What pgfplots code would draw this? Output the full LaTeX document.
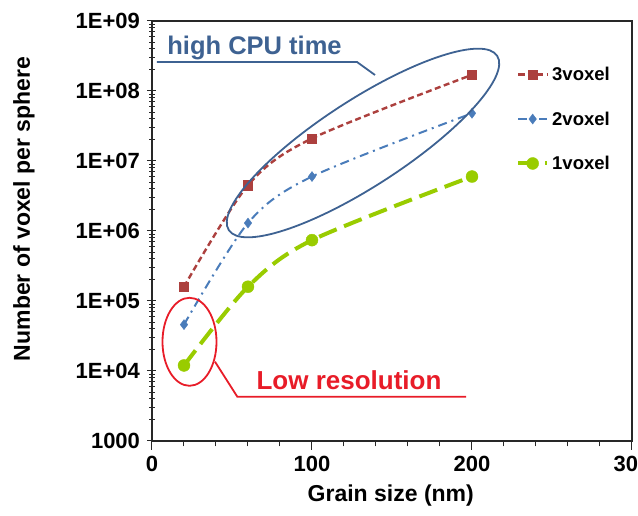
\documentclass[border=0pt]{standalone}
\usepackage{fontspec}
\setmainfont{Liberation Sans}
\usepackage{pgfplots}
\pgfplotsset{compat=1.18}
\definecolor{cRed}{RGB}{172,64,62}
\definecolor{cBlue}{RGB}{74,124,186}
\definecolor{cGreen}{RGB}{153,204,0}
\definecolor{cEll}{RGB}{62,98,146}
\definecolor{cLow}{RGB}{232,28,40}
\definecolor{cAx}{RGB}{40,40,40}
\begin{document}
\begin{tikzpicture}
\path[use as bounding box] (-152pt,-75pt) rectangle (486pt,441pt);
\begin{axis}[
  at={(0pt,0pt)}, anchor=south west,
  scale only axis, width=480pt, height=420pt,
  xmin=0, xmax=300, ymin=1e3, ymax=1e9, ymode=log,
  axis line style={cAx, line width=1.3pt},
  xtick={0,100,200,300}, minor x tick num=4,
  ytick={1e3,1e4,1e5,1e6,1e7,1e8,1e9},
  yticklabels={1000,1E+04,1E+05,1E+06,1E+07,1E+08,1E+09},
  xtick pos=bottom, ytick pos=left,
  xtick align=outside,
  x tick style={cAx, line width=1pt},
  y tick style={cAx, line width=1pt},
  ytick align=center, major tick length=9pt, minor tick length=5.5pt,
  /pgf/number format/assume math mode=true,
  tick label style={font=\fontsize{22}{24}\selectfont\bfseries},
  yticklabel style={xshift=-4pt},
  xticklabel style={yshift=-3pt},
  xlabel={Grain size (nm)},
  ylabel={Number of voxel per sphere},
  label style={font=\fontsize{23}{26}\selectfont\bfseries},
  xlabel style={at={(rel axis cs:0.4975,-0.1305)}, anchor=center},
  ylabel style={at={(rel axis cs:-0.2667,0.5524)}, anchor=center},
  legend style={at={(rel axis cs:0.7583,0.8976)}, anchor=north west,
    draw=none, fill=none, inner sep=0pt, row sep=23.5pt,
    font=\fontsize{18.5}{20}\selectfont\bfseries,
    nodes={inner sep=3pt}},
  legend cell align=left,
  legend image code/.code={\draw[mark repeat=2,mark phase=2,#1] plot coordinates {(0pt,0pt)(14.5pt,0pt)(29pt,0pt)};},
]
\addplot[smooth, cRed, line width=2.4pt, dash pattern=on 6pt off 3.5pt,
  mark=square*, mark size=4.6pt, mark options={solid, line width=0.4pt, fill=cRed, draw=cRed}]
  coordinates {(20,1.6e5) (60,4.5e6) (100,2.1e7) (200,1.7e8)};
\addlegendentry{3voxel}
\addplot[smooth, cBlue, line width=2pt, dash pattern=on 9pt off 5pt on 2pt off 5pt,
  mark=diamond*, mark size=5pt, mark options={solid, line width=0.4pt, fill=cBlue, draw=cBlue}]
  coordinates {(20,4.6e4) (60,1.3e6) (100,6.0e6) (200,4.8e7)};
\addlegendentry{2voxel}
\addplot[smooth, cGreen, line width=4pt, dash pattern=on 19pt off 8pt,
  mark=*, mark size=6pt, mark options={solid, line width=0.4pt, fill=cGreen, draw=cGreen}]
  coordinates {(20,1.2e4) (60,1.6e5) (100,7.4e5) (200,6.0e6)};
\addlegendentry{1voxel}
\end{axis}
% annotations
\draw[cEll, line width=1.8pt, rotate around={33:(211pt,298pt)}] (211pt,298pt) ellipse [x radius=160pt, y radius=43pt];
\draw[cEll, line width=1.8pt] (223pt,366pt) -- (205pt,379pt) -- (5pt,379pt);
\node[text=cEll, font=\fontsize{25.5}{28}\selectfont\bfseries, anchor=base] at (102.5pt,386pt) {high CPU time};
\draw[cLow, line width=1.8pt] (37.5pt,99.2pt) ellipse [x radius=27pt, y radius=44pt];
\draw[cLow, line width=1.8pt] (63pt,79.3pt) -- (85.3pt,44.3pt) -- (314pt,44.3pt);
\node[text=cLow, font=\fontsize{26}{28}\selectfont\bfseries, anchor=base] at (197pt,51pt) {Low resolution};
\end{tikzpicture}
\end{document}
